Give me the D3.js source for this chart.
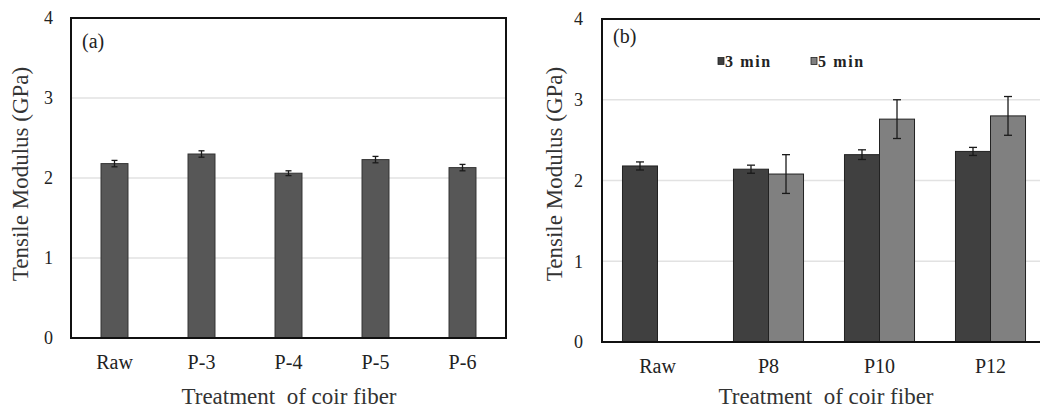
<!DOCTYPE html>
<html>
<head>
<meta charset="utf-8">
<script src="https://cdn.jsdelivr.net/npm/d3@7"></script>
<style>
  body { margin: 0; background: #fff; }
  svg { display: block; }
  svg text { font-family: "Liberation Serif", "DejaVu Serif", serif; }
  .grid line { stroke: #e2e2e2; stroke-width: 1.5; }
</style>
</head>
<body>
<svg id="chart" width="1040" height="408"></svg>
<script>
"use strict";

// panel (a)
var catsA = ["Raw", "P-3", "P-4", "P-5", "P-6"];
var valuesA = [2.18, 2.30, 2.06, 2.23, 2.13];
var errorsA = [0.04, 0.04, 0.03, 0.04, 0.04];

// panel (b)
var catsB = ["Raw", "P8", "P10", "P12"];
var seriesB = ["3 min", "5 min"];
var values3min = [2.18, 2.14, 2.32, 2.36];
var errors3min = [0.05, 0.05, 0.06, 0.05];
var values5min = [null, 2.08, 2.76, 2.80];
var errors5min = [null, 0.24, 0.24, 0.24];

var yTicks = [0, 1, 2, 3, 4];

var svg = d3.select("#chart");

function drawFrame(g, x0, x1, y, pad) {
    // gridlines
    g.append("g").attr("class", "grid")
        .selectAll("line")
        .data(yTicks.filter(function (t) { return t > 0 && t < 4; }))
        .join("line")
        .attr("x1", x0).attr("x2", x1)
        .attr("y1", function (d) { return y(d); })
        .attr("y2", function (d) { return y(d); });

    // y tick labels
    var yAxis = d3.axisLeft(y).tickValues(yTicks).tickFormat(d3.format("d")).tickSize(0).tickPadding(pad);
    g.append("g")
        .attr("transform", "translate(" + x0 + ",0)")
        .call(yAxis)
        .attr("font-family", null)
        .call(function (a) { a.select(".domain").remove(); })
        .selectAll("text")
        .attr("font-size", 18)
        .attr("fill", "#222");
}

function drawErrors(g, data, cap) {
    var eg = g.append("g").attr("stroke", "#1a1a1a").attr("stroke-width", 1.3);
    data.forEach(function (d) {
        eg.append("line").attr("x1", d.cx).attr("x2", d.cx).attr("y1", d.yHi).attr("y2", d.yLo);
        eg.append("line").attr("x1", d.cx - cap).attr("x2", d.cx + cap).attr("y1", d.yHi).attr("y2", d.yHi);
        eg.append("line").attr("x1", d.cx - cap).attr("x2", d.cx + cap).attr("y1", d.yLo).attr("y2", d.yLo);
    });
}

function drawXLabels(g, x, bottom) {
    var xAxis = d3.axisBottom(x).tickSize(0).tickPadding(17);
    g.append("g")
        .attr("transform", "translate(0," + bottom + ")")
        .call(xAxis)
        .attr("font-family", null)
        .call(function (a) { a.select(".domain").remove(); })
        .selectAll("text")
        .attr("font-size", 20)
        .attr("fill", "#222");
}

function axisTitles(g, cx, cy, tx, ty) {
    g.append("text")
        .attr("transform", "translate(" + cx + "," + cy + ") rotate(-90)")
        .attr("text-anchor", "middle")
        .attr("font-size", 23)
        .attr("fill", "#333")
        .text("Tensile Modulus (GPa)");
    g.append("text")
        .attr("x", tx).attr("y", ty)
        .attr("text-anchor", "middle")
        .attr("font-size", 23)
        .attr("fill", "#333")
        .attr("xml:space", "preserve")
        .text("Treatment  of coir fiber");
}

// ---------- panel (a) ----------
(function () {
    var left = 71, right = 506, top = 18, bottom = 338;
    var g = svg.append("g");
    var x = d3.scaleBand().domain(catsA).range([left, right]).paddingInner(0.69).paddingOuter(0.345);
    var y = d3.scaleLinear().domain([0, 4]).range([bottom, top]);

    drawFrame(g, left, right, y, 18);

    var rows = catsA.map(function (c, i) { return { cat: c, v: valuesA[i], e: errorsA[i] }; });

    g.append("g").selectAll("rect")
        .data(rows)
        .join("rect")
        .attr("x", function (d) { return x(d.cat); })
        .attr("width", x.bandwidth())
        .attr("y", function (d) { return y(d.v); })
        .attr("height", function (d) { return y(0) - y(d.v); })
        .attr("fill", "#575757")
        .attr("stroke", "#333")
        .attr("stroke-width", 1);

    drawErrors(g, rows.map(function (d) {
        return { cx: x(d.cat) + x.bandwidth() / 2, yHi: y(d.v + d.e), yLo: y(d.v - d.e) };
    }), 3);

    // box
    g.append("rect")
        .attr("x", left).attr("y", top)
        .attr("width", right - left).attr("height", bottom - top)
        .attr("fill", "none").attr("stroke", "#111").attr("stroke-width", 2);

    drawXLabels(g, x, bottom);

    g.append("text").attr("x", 82).attr("y", 48).attr("font-size", 20).attr("fill", "#222").text("(a)");

    axisTitles(g, 28, 174, 289, 404);
})();

// ---------- panel (b) ----------
(function () {
    var left = 602, right = 1046, top = 19, bottom = 342;
    var g = svg.append("g");
    var x0 = d3.scaleBand().domain(catsB).range([left, right]).padding(0);
    var x1 = d3.scaleBand().domain(seriesB).range([0, x0.bandwidth()]).paddingInner(0).paddingOuter(0.585);
    var y = d3.scaleLinear().domain([0, 4]).range([bottom, top]);
    var colors = d3.scaleOrdinal().domain(seriesB).range(["#404040", "#808080"]);

    drawFrame(g, left, right, y, 19);

    var rows = [];
    catsB.forEach(function (c, i) {
        rows.push({ cat: c, s: "3 min", v: values3min[i], e: errors3min[i] });
        if (values5min[i] !== null) {
            rows.push({ cat: c, s: "5 min", v: values5min[i], e: errors5min[i] });
        }
    });

    g.append("g").selectAll("rect")
        .data(rows)
        .join("rect")
        .attr("x", function (d) { return x0(d.cat) + x1(d.s); })
        .attr("width", x1.bandwidth())
        .attr("y", function (d) { return y(d.v); })
        .attr("height", function (d) { return y(0) - y(d.v); })
        .attr("fill", function (d) { return colors(d.s); })
        .attr("stroke", "#222")
        .attr("stroke-width", 1);

    drawErrors(g, rows.map(function (d) {
        return { cx: x0(d.cat) + x1(d.s) + x1.bandwidth() / 2, yHi: y(d.v + d.e), yLo: y(d.v - d.e) };
    }), 4);

    // frame (right edge falls just outside the window)
    g.append("rect")
        .attr("x", left).attr("y", top)
        .attr("width", right - left).attr("height", bottom - top)
        .attr("fill", "none").attr("stroke", "#111").attr("stroke-width", 2);

    drawXLabels(g, x0, bottom);

    g.append("text").attr("x", 613).attr("y", 43).attr("font-size", 20).attr("fill", "#222").text("(b)");

    // legend
    var legendX = [718, 811];
    var lg = g.append("g").selectAll("g")
        .data(seriesB)
        .join("g")
        .attr("transform", function (d, i) { return "translate(" + legendX[i] + ",61)"; });
    lg.append("rect")
        .attr("x", 0).attr("y", -3.5).attr("width", 6).attr("height", 7)
        .attr("fill", function (d) { return colors(d); })
        .attr("stroke", "#222").attr("stroke-width", 0.8);
    lg.append("text")
        .attr("x", 7).attr("y", 6)
        .attr("font-size", 16).attr("font-weight", "bold").attr("fill", "#222")
        .attr("letter-spacing", 1.6)
        .text(function (d) { return d; });

    axisTitles(g, 562, 174, 826, 404);
})();
</script>
</body>
</html>
